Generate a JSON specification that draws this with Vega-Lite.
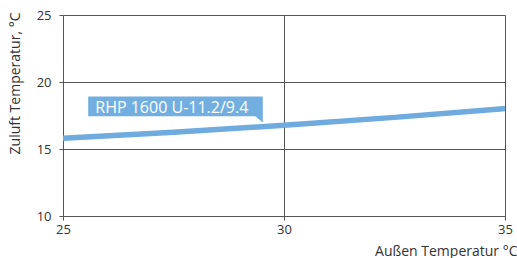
{
  "$schema": "https://vega.github.io/schema/vega-lite/v6.json",
  "width": 442,
  "height": 201,
  "autosize": {"type": "none"},
  "padding": {"left": 63, "top": 15, "right": 12, "bottom": 42},
  "background": "white",
  "config": {
    "view": {"stroke": null},
    "font": "Open Sans",
    "axis": {
      "labelFont": "Open Sans",
      "titleFont": "Open Sans",
      "labelFontSize": 13,
      "titleFontSize": 14,
      "titleFontWeight": "normal",
      "labelColor": "#333333",
      "titleColor": "#333333",
      "gridColor": "#555555",
      "gridOpacity": 1,
      "gridWidth": 1,
      "domainColor": "#555555",
      "domainWidth": 1,
      "tickColor": "#555555",
      "tickSize": 4,
      "labelFlush": false
    }
  },
  "datasets": {
    "curve": [
      {"aussen": 25, "zuluft": 15.8},
      {"aussen": 27.5, "zuluft": 16.25},
      {"aussen": 30, "zuluft": 16.77},
      {"aussen": 32.5, "zuluft": 17.36},
      {"aussen": 35, "zuluft": 18.02}
    ],
    "callout": [
      {"aussen": 25.57, "bottom": 17.45, "top": 18.91},
      {"aussen": 29.35, "bottom": 17.45, "top": 18.91},
      {"aussen": 29.52, "bottom": 16.98, "top": 18.91}
    ],
    "label": [
      {"aussen": 25.73, "zuluft": 17.65, "name": "RHP 1600 U-11.2/9.4"}
    ]
  },
  "layer": [
    {
      "data": {"name": "curve"},
      "mark": {"type": "line", "color": "#6fabde", "strokeWidth": 5.5, "interpolate": "monotone", "clip": true, "strokeCap": "butt"},
      "encoding": {
        "x": {
          "field": "aussen", "type": "quantitative",
          "scale": {"domain": [25, 35], "nice": false, "zero": false},
          "axis": {
            "values": [25, 30, 35], "grid": true, "labelPadding": 3,
            "title": "Außen Temperatur °C",
            "titleAlign": "right", "titleAnchor": null, "titleX": 454, "titleY": 39, "titleBaseline": "alphabetic"
          }
        },
        "y": {
          "field": "zuluft", "type": "quantitative",
          "scale": {"domain": [10, 25], "nice": false, "zero": false},
          "axis": {
            "values": [10, 15, 20, 25], "grid": true, "labelPadding": 8,
            "title": "Zuluft Temperatur, °C",
            "titleAngle": -90, "titleAlign": "center", "titleX": -41, "titleY": 68, "titleBaseline": "bottom"
          }
        }
      }
    },
    {
      "data": {"name": "callout"},
      "mark": {"type": "area", "color": "#72afe0", "opacity": 1, "interpolate": "linear"},
      "encoding": {
        "x": {"field": "aussen", "type": "quantitative"},
        "y": {"field": "bottom", "type": "quantitative"},
        "y2": {"field": "top"}
      }
    },
    {
      "data": {"name": "label"},
      "mark": {"type": "text", "color": "white", "font": "Open Sans", "fontSize": 16, "align": "left", "baseline": "alphabetic"},
      "encoding": {
        "x": {"field": "aussen", "type": "quantitative"},
        "y": {"field": "zuluft", "type": "quantitative"},
        "text": {"field": "name"}
      }
    }
  ]
}
